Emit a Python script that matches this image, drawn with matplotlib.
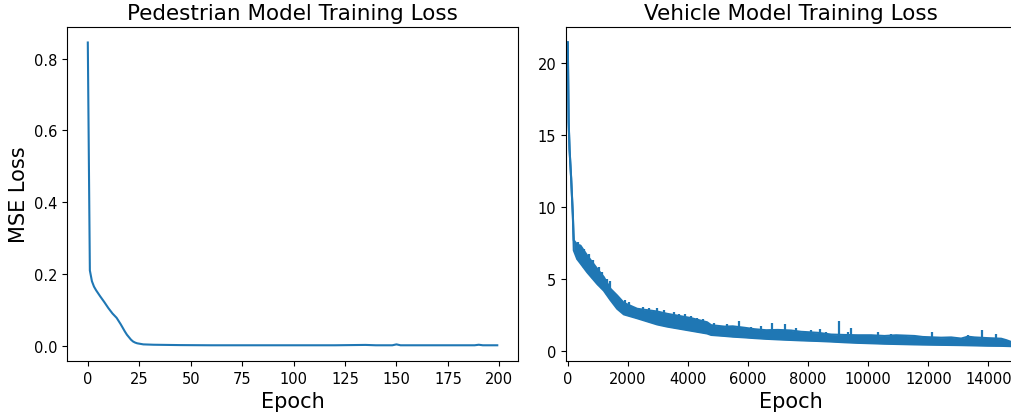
import matplotlib
matplotlib.use("Agg")
import matplotlib.pyplot as plt
import numpy as np

# Pedestrian model: loss per epoch (epochs 0..199)
ped_epochs = [0, 1, 2, 3, 4, 6, 8, 10, 12, 14, 15, 16, 17, 18, 19, 20, 21, 22, 23, 24, 27,
              32, 45, 60, 80, 100, 120, 135, 140, 148, 150, 152, 160, 175, 188, 190, 192, 199]
ped_loss = [0.845, 0.21, 0.18, 0.165, 0.155, 0.138, 0.122, 0.105, 0.09, 0.078, 0.069, 0.06,
            0.05, 0.04, 0.031, 0.024, 0.017, 0.012, 0.009, 0.007, 0.004,
            0.003, 0.002, 0.0015, 0.0015, 0.0015, 0.0015, 0.0025, 0.0015, 0.0015, 0.004, 0.0015,
            0.0015, 0.0015, 0.0015, 0.003, 0.0015, 0.0015]

# Vehicle model: noisy loss, described by the lower and upper edge of its band
veh_epochs = [0, 30, 60, 113, 170, 200, 313, 423, 646, 978, 1200, 1420, 1644, 1866, 2310,
              2975, 3308, 4084, 4639, 4772, 5216, 5493, 5882, 6215, 6603, 6991, 7435, 7767,
              8322, 8765, 9208, 9652, 10097, 10540, 10929, 11539, 11817, 12427, 12760, 13093,
              13315, 13537, 13981, 14426, 14592, 14737, 15000]
veh_upper = [21.46, 15.9, 14.0, 12.0, 9.4, 7.7, 7.4, 7.33, 6.64, 5.72, 5.14, 4.33, 3.86, 3.35,
             2.94, 2.75, 2.59, 2.3, 2.0, 1.8, 1.7, 1.72, 1.62, 1.52, 1.45, 1.47, 1.43, 1.34,
             1.27, 1.15, 1.12, 1.1, 1.1, 1.05, 1.1, 1.05, 0.98, 0.93, 0.95, 0.87,
             1.0, 0.95, 0.9, 0.86, 0.76, 0.65, 0.62]
veh_lower = [21.46, 15.9, 14.0, 12.0, 9.4, 7.0, 6.4, 6.1, 5.48, 4.67, 4.2, 3.55, 2.94, 2.55,
             2.28, 1.85, 1.7, 1.42, 1.22, 1.12, 1.05, 1.0, 0.95, 0.9, 0.85, 0.81, 0.77, 0.74,
             0.7, 0.66, 0.61, 0.57, 0.54, 0.51, 0.49, 0.46, 0.45, 0.43, 0.42, 0.41,
             0.4, 0.39, 0.37, 0.36, 0.35, 0.34, 0.34]

# Isolated spikes rising above the band
spike_epochs = [350, 550, 700, 850, 1033, 1150, 1300, 1400, 1921, 2030, 2500, 2700, 2975,
                3200, 3531, 3700, 3900, 4100, 4300, 4500, 4883, 5300, 5715, 6100, 6437, 6792,
                7235, 7600, 8100, 8410, 8599, 9020, 9319, 9430, 10318, 10762, 11262, 12127,
                13315, 13793, 14237]
spike_loss = [7.6, 7.1, 6.76, 6.3, 5.83, 5.5, 5.0, 4.84, 3.52, 3.4, 3.05, 3.0, 3.0,
              2.85, 2.75, 2.6, 2.55, 2.45, 2.3, 2.2, 1.94, 1.85, 2.06, 1.7, 1.73, 1.94,
              1.9, 1.6, 1.43, 1.55, 1.36, 2.08, 1.36, 1.6, 1.32, 1.2, 1.15, 1.36,
              1.13, 1.48, 1.2]

color = "#1f77b4"
fig = plt.figure(figsize=(10.11, 4.14), dpi=100)
ax1 = fig.add_axes([0.0666, 0.1256, 0.4455, 0.806])
ax2 = fig.add_axes([0.5598, 0.1256, 0.4458, 0.806])

ax1.plot(ped_epochs, ped_loss, color=color, lw=1.5)
ax1.set_xlim(-9.95, 208.95)
ax1.set_ylim(-0.0423, 0.8873)
ax1.set_xticks(range(0, 201, 25))
ax1.set_yticks([0.0, 0.2, 0.4, 0.6, 0.8])
ax1.set_title("Pedestrian Model Training Loss", fontsize=15.5)
ax1.set_xlabel("Epoch", fontsize=15)
ax1.set_ylabel("MSE Loss", fontsize=15)

ax2.fill_between(veh_epochs, veh_lower, veh_upper, color=color, lw=0)
ax2.plot(veh_epochs, veh_lower, color=color, lw=1.5)
ax2.plot(veh_epochs, veh_upper, color=color, lw=1.5)
# each spike rises from the band's lower edge
base = np.interp(spike_epochs, veh_epochs, veh_lower)
ax2.vlines(spike_epochs, base, spike_loss, color=color, lw=1.6)
ax2.set_xlim(-60, 14940)
ax2.set_ylim(-0.69, 22.5)
ax2.set_xticks(range(0, 14001, 2000))
ax2.set_yticks([0, 5, 10, 15, 20])
ax2.set_title("Vehicle Model Training Loss", fontsize=15.5)
ax2.set_xlabel("Epoch", fontsize=15)

for ax in (ax1, ax2):
    ax.tick_params(labelsize=10.5)

fig.savefig("out.png", dpi=100)
